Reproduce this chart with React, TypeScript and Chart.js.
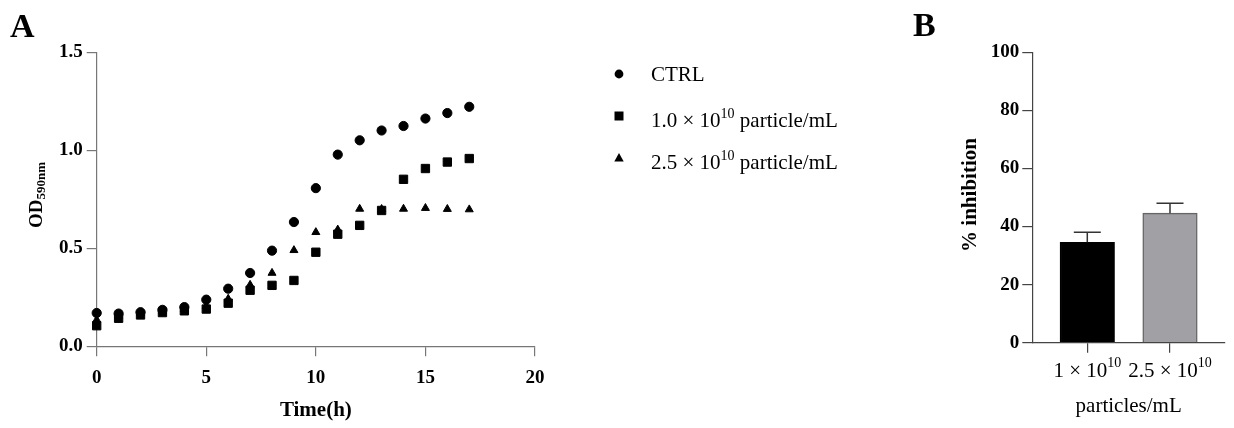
import React, { useEffect, useRef } from "react";
import { Chart, registerables } from "chart.js";

Chart.register(...registerables);

// Panel A: growth curves
const hours = [0, 1, 2, 3, 4, 5, 6, 7, 8, 9, 10, 11, 12, 13, 14, 15, 16, 17];
const ctrlOD = [0.17, 0.167, 0.174, 0.186, 0.2, 0.238, 0.294, 0.374, 0.488, 0.634, 0.807, 0.978, 1.051, 1.101, 1.124, 1.162, 1.19, 1.222];
const lowDoseOD = [0.105, 0.143, 0.16, 0.172, 0.181, 0.19, 0.22, 0.286, 0.311, 0.336, 0.48, 0.572, 0.617, 0.693, 0.852, 0.907, 0.94, 0.958];
const highDoseOD = [0.135, 0.155, 0.167, 0.179, 0.19, 0.205, 0.242, 0.313, 0.374, 0.49, 0.582, 0.595, 0.701, 0.7, 0.701, 0.705, 0.7, 0.698];
const seriesLabels = ["CTRL", "1.0 × 10^10 particle/mL", "2.5 × 10^10 particle/mL"];
const seriesMarkers = ["circle", "rect", "triangle"];

// Panel B: inhibition
const doseLabels = ["1 × 10^10", "2.5 × 10^10"];
const inhibition = [34.6, 44.6];
const inhibitionSd = [3.4, 3.4];

const SERIF = '"Liberation Serif", "DejaVu Serif", serif';

function splitSup(label: string) {
  const m = label.match(/^(.*?)\^(\d+)(.*)$/);
  return m ? { base: m[1], sup: m[2], rest: m[3] } : { base: label, sup: "", rest: "" };
}

// draw text that may hold one "^nn" superscript
function drawSupText(ctx: CanvasRenderingContext2D, label: string, x: number, y: number, size: number, align: string, weight = "normal") {
  const { base, sup, rest } = splitSup(label);
  const supSize = Math.round(size * 0.68);
  const main = `${weight} ${size}px ${SERIF}`;
  const small = `${weight} ${supSize}px ${SERIF}`;
  ctx.font = main;
  const wb = ctx.measureText(base).width;
  const wr = ctx.measureText(rest).width;
  ctx.font = small;
  const ws = ctx.measureText(sup).width;
  const left = align === "center" ? x - (wb + ws + wr) / 2 : x;
  ctx.textAlign = "left";
  ctx.textBaseline = "alphabetic";
  ctx.font = main;
  ctx.fillText(base, left, y);
  ctx.font = small;
  ctx.fillText(sup, left + wb, y - size * 0.45);
  ctx.font = main;
  ctx.fillText(rest, left + wb + ws, y);
}

function drawMarker(ctx: CanvasRenderingContext2D, style: string, x: number, y: number) {
  ctx.beginPath();
  if (style === "circle") {
    ctx.arc(x, y, 4.4, 0, Math.PI * 2);
  } else if (style === "rect") {
    ctx.rect(x - 4.5, y - 4.5, 9, 9);
  } else {
    ctx.moveTo(x, y - 5);
    ctx.lineTo(x + 4.7, y + 3.5);
    ctx.lineTo(x - 4.7, y + 3.5);
    ctx.closePath();
  }
  ctx.fill();
}

const tickFont = { family: SERIF, size: 19, weight: "bold" as const };

const GrowthChart: React.FC = () => {
  const canvasRef = useRef<HTMLCanvasElement>(null);

  useEffect(() => {
    if (!canvasRef.current) return;
    const ctx = canvasRef.current.getContext("2d");
    if (!ctx) return;
    const axisColor = "#777";

    const annotate = {
      id: "annotateA",
      afterDraw(chart: Chart) {
        const c = chart.ctx;
        const area = chart.chartArea;
        c.save();
        c.fillStyle = "#000";
        // panel letter
        c.font = `bold 34px ${SERIF}`;
        c.textAlign = "left";
        c.textBaseline = "alphabetic";
        c.fillText("A", 10, 36.5);
        // x title
        c.font = `bold 21px ${SERIF}`;
        c.textAlign = "center";
        c.fillText("Time(h)", (area.left + area.right) / 2, 416);
        // y title OD590nm
        c.translate(42, 195);
        c.rotate(-Math.PI / 2);
        c.font = `bold 19px ${SERIF}`;
        const wMain = c.measureText("OD").width;
        c.font = `bold 13px ${SERIF}`;
        const wSub = c.measureText("590nm").width;
        const start = -(wMain + wSub) / 2;
        c.textAlign = "left";
        c.font = `bold 19px ${SERIF}`;
        c.fillText("OD", start, 0);
        c.font = `bold 13px ${SERIF}`;
        c.fillText("590nm", start + wMain, 3);
        c.restore();

        // legend
        c.save();
        c.fillStyle = "#000";
        seriesLabels.forEach((label, i) => {
          const my = 74 + i * 42;
          drawMarker(c, seriesMarkers[i], area.right + 84, my);
          const hasSup = label.includes("^");
          drawSupText(c, label, area.right + 116, my + (hasSup ? 11.3 : 6.7), 21, "left");
        });
        c.restore();
      },
    };

    const seriesValues = [ctrlOD, lowDoseOD, highDoseOD];
    const radii = [4.6, 5.9, 4.6];

    const chart = new Chart(ctx, {
      type: "scatter",
      data: {
        datasets: seriesValues.map((vals, i) => ({
          label: seriesLabels[i],
          data: hours.map((h, j) => ({ x: h, y: vals[j] })),
          pointStyle: seriesMarkers[i] as any,
          pointRadius: radii[i],
          pointBackgroundColor: "#000",
          pointBorderColor: "#000",
          pointBorderWidth: 1,
          showLine: false,
          clip: false as any,
        })),
      },
      options: {
        animation: false,
        responsive: false,
        layout: { padding: { left: 0, right: 345, top: 52.3, bottom: 0 } },
        plugins: { legend: { display: false }, tooltip: { enabled: false } },
        scales: {
          x: {
            type: "linear",
            min: 0,
            max: 20,
            ticks: { stepSize: 5, font: tickFont, color: "#000", padding: 10 },
            grid: { drawOnChartArea: false, drawTicks: true, tickLength: 10, color: axisColor, lineWidth: 1.2 },
            border: { display: true, color: axisColor, width: 1.2 },
            afterFit(scale: any) {
              scale.height = 81.7;
            },
          },
          y: {
            min: 0,
            max: 1.5,
            ticks: { stepSize: 0.5, font: tickFont, color: "#000", padding: 4, callback: (v: any) => Number(v).toFixed(1) },
            grid: { drawOnChartArea: false, drawTicks: true, tickLength: 10, color: axisColor, lineWidth: 1.2 },
            border: { display: true, color: axisColor, width: 1.2 },
            afterFit(scale: any) {
              scale.width = 96.7;
            },
          },
        },
      },
      plugins: [annotate],
    });

    return () => {
      chart.destroy();
    };
  }, []);

  return <canvas ref={canvasRef} width={880} height={428} style={{ position: "absolute", left: 0, top: 0 }}></canvas>;
};

const InhibitionChart: React.FC = () => {
  const canvasRef = useRef<HTMLCanvasElement>(null);

  useEffect(() => {
    if (!canvasRef.current) return;
    const ctx = canvasRef.current.getContext("2d");
    if (!ctx) return;
    const axisColor = "#444";

    const annotate = {
      id: "annotateB",
      afterDatasetsDraw(chart: Chart) {
        // upper error bars
        const c = chart.ctx;
        const yScale = chart.scales.y;
        const meta = chart.getDatasetMeta(0);
        c.save();
        c.strokeStyle = "#333";
        c.lineWidth = 1.5;
        meta.data.forEach((bar: any, i: number) => {
          const top = yScale.getPixelForValue(inhibition[i] + inhibitionSd[i]);
          c.beginPath();
          c.moveTo(bar.x, bar.y);
          c.lineTo(bar.x, top);
          c.moveTo(bar.x - 13.5, top);
          c.lineTo(bar.x + 13.5, top);
          c.stroke();
        });
        c.restore();
      },
      afterDraw(chart: Chart) {
        const c = chart.ctx;
        const area = chart.chartArea;
        const xScale = chart.scales.x;
        c.save();
        c.fillStyle = "#000";
        c.font = `bold 34px ${SERIF}`;
        c.textAlign = "left";
        c.textBaseline = "alphabetic";
        c.fillText("B", 33, 35.5);
        doseLabels.forEach((label, i) => {
          drawSupText(c, label, xScale.getPixelForValue(i + 1), 376.7, 21, "center");
        });
        c.font = `normal 21px ${SERIF}`;
        c.textAlign = "center";
        c.fillText("particles/mL", (area.left + area.right) / 2, 412.3);
        c.translate(96, 195);
        c.rotate(-Math.PI / 2);
        c.font = `bold 21px ${SERIF}`;
        c.fillText("% inhibition", 0, 0);
        c.restore();
      },
    };

    const chart = new Chart(ctx, {
      type: "bar",
      data: {
        datasets: [
          {
            label: "% inhibition",
            data: inhibition.map((v, i) => ({ x: i + 1, y: v })),
            backgroundColor: ["#000000", "#a1a1a5"],
            borderColor: ["#000000", "#666666"],
            borderWidth: 1.5,
            barThickness: 54.5,
          },
        ],
      },
      options: {
        animation: false,
        responsive: false,
        layout: { padding: { left: 0, right: 9, top: 52.3, bottom: 0 } },
        plugins: { legend: { display: false }, tooltip: { enabled: false } },
        scales: {
          x: {
            type: "linear",
            min: 0.335,
            max: 2.665,
            offset: false,
            afterBuildTicks(scale: any) {
              scale.ticks = doseLabels.map((_, i) => ({ value: i + 1 }));
            },
            ticks: { color: "rgba(0,0,0,0)", font: { family: SERIF, size: 12 }, callback: () => "" },
            grid: { offset: false, drawOnChartArea: false, drawTicks: true, tickLength: 10, color: axisColor, lineWidth: 1.2 },
            border: { display: true, color: axisColor, width: 1.2 },
            afterFit(scale: any) {
              scale.height = 85.3;
            },
          },
          y: {
            min: 0,
            max: 100,
            ticks: { stepSize: 20, font: tickFont, color: "#000", padding: 3 },
            grid: { drawOnChartArea: false, drawTicks: true, tickLength: 10, color: axisColor, lineWidth: 1.2 },
            border: { display: true, color: axisColor, width: 1.2 },
            afterFit(scale: any) {
              scale.width = 152.3;
            },
          },
        },
      },
      plugins: [annotate],
    });

    return () => {
      chart.destroy();
    };
  }, []);

  return <canvas ref={canvasRef} width={354} height={428} style={{ position: "absolute", left: 880, top: 0 }}></canvas>;
};

export default function App() {
  return (
    <div style={{ position: "fixed", left: 0, top: 0, width: 1234, height: 428, background: "#fff" }}>
      <GrowthChart />
      <InhibitionChart />
    </div>
  );
}
